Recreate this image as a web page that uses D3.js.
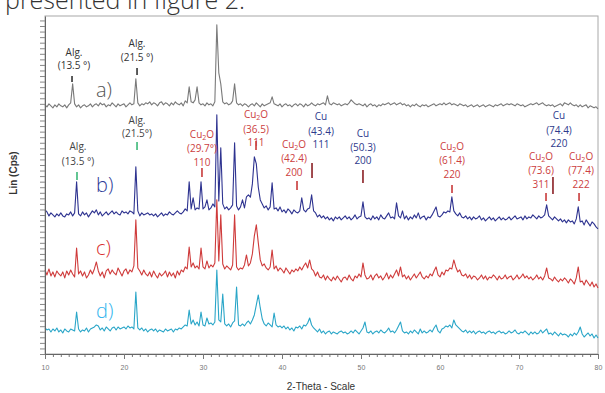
<!DOCTYPE html>
<html>
<head>
<meta charset="utf-8">
<script src="https://cdn.jsdelivr.net/npm/d3@7"></script>
<style>
body { margin: 0; background: #fff; }
svg { display: block; font-family: "Open Sans", sans-serif; }
</style>
</head>
<body>
<svg id="chart" width="605" height="393"></svg>
<script>
// XRD patterns, intensity (Cps) sampled every 0.25 deg from 10 to 80 (2-theta)
var thetaStart = 10, thetaStep = 0.25;

var traceNames = ["a)", "b)", "c)", "d)"];
var traceOffsets = [2232, 1260, 729, 216];

var traceA = [
  9, -9, 18, 0,   -18, 9, -9, 18,   0, -9, 9, -18,   9, 27, 198, 18,
  -9, 9, -18, 0,   9, -9, 0, 18,   -9, 9, 18, 0,   27, 9, 18, -9,
  9, 0, 27, 9,   -9, 18, 0, 9,   18, -9, 9, 27,   9, 18, 243, 27,
  0, 18, 9, 27,   18, 36, 9, 27,   18, 0, 27, 36,   9, 27, 18, 0,
  27, 9, 36, 18,   9, 27, 0, 45,   27, 171, 36, 27,   54, 171, 27, 9,
  18, 0, 27, 9,   18, 0, 36, 729,   297, 198, 36, 18,   27, 9, 18, 45,
  198, 27, 9, 18,   0, 18, 9, -9,   9, 18, 0, 27,   9, -9, 18, 0,
  9, 18, 27, 81,   18, 9, 0, 18,   -9, 9, 18, 0,   9, -9, 9, 18,
  0, 18, 9, -9,   18, 0, 9, 27,   9, 0, 18, 9,   18, 27, 9, 90,
  18, 9, 27, 18,   9, 18, 0, 9,   18, 9, 27, 54,   36, 18, 9, 18,
  9, 0, 18, -9,   9, 18, 0, 9,   -9, 9, 0, 18,   9, 18, 27, 9,
  18, 27, 9, 18,   27, 9, 18, 0,   9, -9, 9, 0,   18, 0, -9, 9,
  0, 9, -9, 0,   9, 18, 0, 9,   18, 9, 27, 9,   18, 27, 9, 18,
  9, 0, 18, 9,   0, 9, -9, 0,   9, -9, 0, 9,   -9, 0, 9, -9,
  0, 9, 0, -9,   9, 0, 9, 18,   0, 9, 18, 9,   18, 9, 0, 18,
  9, 0, 9, -9,   0, 9, 18, 9,   18, 27, 9, 18,   27, 9, 0, 9,
  0, 9, -9, 0,   9, 18, 0, 27,   18, 9, 27, 9,   0, 9, -9, 9,
  -9, 0, 9, -18,   0, -9, -18, -9,   -27
];

var traceB = [
  36, 18, -18, 9,   -9, -27, 0, -18,   9, -18, -27, 0,   -9, 18, -18, 9,
  288, 0, -18, 18,   -9, 9, -27, 0,   27, 9, 36, -9,   18, -18, 0, 18,
  -9, 9, 27, 0,   18, 0, -9, 27,   9, 18, 0, 27,   18, 0, 423, 27,
  -18, 9, -9, 0,   9, -9, 0, -18,   0, -27, -9, 9,   -18, 0, -9, 18,
  0, -9, 9, 27,   9, 0, 18, 45,   27, 288, 45, 144,   36, 54, 45, 288,
  45, 63, 126, 36,   54, 90, 63, 891,   117, 594, 90, 45,   63, 36, 54, 81,
  639, 72, 36, 63,   126, 54, 153, 171,   150, 270, 513, 450,   240, 126, 90, 54,
  72, 36, 63, 279,   45, 54, 27, 63,   18, 36, 9, 45,   27, 0, 36, 18,
  9, 27, 144, 36,   18, 45, 54, 171,   27, 9, -27, -9,   -36, -18, -45, -27,
  -54, -36, -63, -27,   -45, -27, -54, -36,   -18, -45, -27, -54,   -36, -9, -45, -27,
  -18, 108, -27, -45,   -36, -54, -18, -45,   -27, -54, -9, -36,   -45, -18, 9, -36,
  -27, -45, 99, -18,   -36, 27, -45, -18,   -54, -27, -45, -9,   -36, 9, -45, -27,
  -18, -54, -27, -36,   -9, 27, 63, -18,   -27, -9, 18, 9,   27, 18, 153, 27,
  0, -18, 9, -27,   -36, -18, -45, -27,   -54, -27, -45, -36,   -18, -54, -36, -63,
  -45, -27, -54, -36,   -63, -45, -27, -54,   -36, -54, -45, -27,   -54, -36, -18, -45,
  -36, -27, -54, -18,   -45, -27, -36, -9,   -27, -45, -18, -36,   -27, -9, 81, -18,
  -36, -54, -27, -45,   -63, -45, -72, -54,   -81, -54, -72, -63,   -90, -45, 63, -72,
  -63, -99, -54, -81,   -108, -72, -90, -117,   -135
];

var traceC = [
  27, -18, 36, -27,   9, -36, 18, -9,   -27, 9, -45, 18,   -18, 27, -9, -36,
  225, -9, 18, -27,   9, -45, -18, 27,   -9, 36, 99, 18,   -27, 9, -45, 18,
  36, -9, 27, 0,   -18, 45, 9, -27,   18, 36, -9, 27,   9, 63, 477, 45,
  18, -18, 27, -9,   -27, 9, -36, 18,   -18, -45, 0, -27,   -9, 18, -36, 9,
  -27, 0, -45, 18,   -18, 27, 9, 54,   36, 234, 54, 90,   45, 63, 36, 225,
  54, 36, 108, 45,   72, 54, 90, 657,   108, 522, 81, 36,   63, 45, 27, 72,
  522, 54, 27, 45,   36, 72, 162, 63,   90, 171, 333, 432,   270, 117, 63, 81,
  45, 27, 54, 207,   36, 63, 18, 45,   27, 0, 45, 18,   -9, 27, 9, 36,
  18, 54, 27, 63,   90, 45, 117, 36,   18, -27, 9, -36,   -45, -18, -63, -27,
  -54, -72, -36, -63,   -27, -54, -81, -45,   -36, -63, -18, -54,   -72, -27, -45, -9,
  -36, 90, -18, -54,   -45, -18, -63, -27,   -9, -45, -27, -63,   -36, 0, -54, -18,
  -45, -9, 27, -27,   54, -36, -18, -54,   -27, -63, -36, -9,   -45, -18, 9, -36,
  -54, -27, -45, -9,   -27, 18, 54, -18,   -36, 9, -18, 27,   18, 45, 36, 117,
  54, 9, 27, -18,   -27, -9, -45, -18,   -54, -27, -36, -63,   -45, -18, -54, -27,
  -63, -36, -45, -18,   -36, -63, -27, -54,   -45, -18, -54, -36,   -27, -63, -45, -18,
  -54, -36, -9, -45,   -27, -54, -36, -63,   -45, -18, -54, -36,   -63, -27, 45, -45,
  -54, -72, -36, -63,   -81, -54, -72, -45,   -63, -90, -54, -72,   -99, -45, 54, -81,
  -72, -108, -63, -90,   -117, -81, -126, -99,   -135
];

var traceD = [
  18, 0, 9, -18,   9, -9, 18, -18,   0, -27, 9, -9,   -18, 9, 0, -9,
  162, 9, -18, 0,   -9, 18, -18, 9,   18, 27, 45, 36,   0, 18, -9, 27,
  9, -9, 18, 27,   0, 27, 9, 18,   27, 9, 36, 18,   27, 9, 342, 18,
  0, 18, -9, 9,   -18, 0, 9, -9,   9, -18, 0, -9,   -18, 9, -9, 0,
  9, -18, 9, 0,   18, 9, 27, 45,   36, 180, 54, 90,   45, 72, 36, 162,
  45, 36, 108, 54,   63, 45, 72, 540,   90, 72, 324, 54,   36, 54, 27, 63,
  81, 387, 45, 36,   54, 36, 63, 81,   54, 90, 135, 225,   315, 198, 99, 54,
  36, 63, 45, 27,   153, 45, 27, 36,   18, 36, 9, 27,   0, 18, -9, 27,
  18, 36, 9, 45,   36, 63, 108, 45,   18, 0, -18, 9,   -27, -9, -36, -18,
  -9, -36, -18, -27,   -36, -18, -9, -27,   -18, -36, -27, -9,   -27, 0, -18, -36,
  -9, 18, 72, -18,   -27, -9, -36, -18,   -9, -27, 0, -18,   -27, -9, 18, -18,
  -9, -27, 0, 36,   72, -9, -27, -18,   -36, -9, -27, 0,   -18, -36, 9, -27,
  -9, -27, -18, 0,   -18, 18, 45, -9,   -27, 9, 18, 36,   27, 45, 18, 90,
  45, 27, 9, -9,   -18, 0, -27, -9,   -27, -9, -36, -18,   -9, -27, -18, -36,
  -18, -9, -27, -18,   -36, -18, -9, -27,   -18, -36, -27, -9,   -27, -18, 0, -27,
  -36, -18, -27, -9,   -27, -45, -18, -36,   -18, -36, -27, 0,   -27, -9, 9, -36,
  -27, -45, -18, -36,   -54, -27, -45, -36,   -45, -63, -36, -54,   -27, -45, -18, 27,
  -36, -63, -45, -27,   -54, -36, -72, -45,   -72
];

var traceColors = ["#7a7a7a", "#2e3390", "#cf3b3b", "#2aa6c8"];
var nameColors = ["#555555", "#2e3a96", "#d93030", "#31b4ee"];

var xTicks = [10, 20, 30, 40, 50, 60, 70, 80];

// peak annotations: label lines, marked 2-theta, kind of phase
var annoLines = [
  ["Alg.", "(13.5 \u00b0)"],
  ["Alg.", "(21.5 \u00b0)"],
  ["Alg.", "(13.5 \u00b0)"],
  ["Alg.", "(21.5\u00b0)"],
  ["Cu2O", "(29.7\u00b0)", "110"],
  ["Cu2O", "(36.5)", "111"],
  ["Cu2O", "(42.4)", "200"],
  ["Cu", "(43.4)", "111"],
  ["Cu", "(50.3)", "200"],
  ["Cu2O", "(61.4)", "220"],
  ["Cu", "(74.4)", "220"],
  ["Cu2O", "(73.6)", "311"],
  ["Cu2O", "(77.4)", "222"]
];
var annoTheta = [13.42, 21.65, 14.05, 21.65, 29.87, 36.71, 41.9, 43.8, 50.25, 61.52, 74.3, 73.42, 77.6];
var annoKind = ["alg", "alg", "algB", "algB", "cu2o", "cu2o", "cu2o", "cu", "cu", "cu2o", "cu", "cu2o", "cu2o"];

var svg = d3.select("#chart");
var margin = {left: 45, right: 7, top: 16, bottom: 39};
var W = 605, H = 393;

var x = d3.scaleLinear().domain([10, 80]).range([margin.left, W - margin.right]);
var y = d3.scaleLinear().domain([0, 3040]).range([H - margin.bottom, margin.top]);

// caption fragment cut off at the top of the crop
svg.append("text")
    .attr("x", 5).attr("y", 9)
    .style("font-size", "25px").style("font-weight", 300)
    .style("fill", "#333")
    .text("presented in figure 2.");

// frame
svg.append("rect")
    .attr("x", x(10)).attr("y", y.range()[1])
    .attr("width", x(80) - x(10)).attr("height", y.range()[0] - y.range()[1])
    .attr("fill", "none").attr("stroke", "#a8a8a8");

// traces
var traces = [traceA, traceB, traceC, traceD];
traces.forEach(function (t, k) {
    var line = d3.line()
        .x(function (d, i) { return x(thetaStart + i * thetaStep); })
        .y(function (d) { return y(d + traceOffsets[k]); });
    svg.append("path")
        .datum(t)
        .attr("d", line)
        .attr("fill", "none")
        .attr("stroke", traceColors[k])
        .attr("stroke-width", 1.1)
        .attr("stroke-linejoin", "round");
});

// trace names
var nameY = [97, 192, 255, 318];
traceNames.forEach(function (n, k) {
    svg.append("text")
        .attr("x", 96).attr("y", nameY[k])
        .style("font-size", "20px").style("font-weight", 300)
        .style("fill", nameColors[k])
        .text(n);
});

// annotation layout: text baselines, label dx, mark y0/y1
var annoLayout = [
    {ty: [56, 69], dx: 2, my: [76, 82]},
    {ty: [47, 61], dx: 0, my: [68, 75]},
    {ty: [150, 165], dx: 1, my: [172, 180]},
    {ty: [124, 137], dx: 0, my: [142, 150]},
    {ty: [138, 152, 166], dx: 0, my: [168, 177]},
    {ty: [118, 133, 146], dx: 0, my: [141, 150]},
    {ty: [148, 162, 176], dx: -3, my: [181, 190]},
    {ty: [120, 135, 148], dx: 9, my: [163, 178]},
    {ty: [137, 151, 164], dx: 0, my: [170, 183]},
    {ty: [150, 164, 178], dx: 0, my: [185, 193]},
    {ty: [119, 134, 147], dx: 6, my: [177, 194]},
    {ty: [160, 174, 188], dx: -5, my: [193, 201]},
    {ty: [160, 174, 188], dx: 2, my: [193, 201]}
];
var textColor = {alg: "#333333", algB: "#444444", cu2o: "#cc4040", cu: "#2e3a8c"};
var markColor = {alg: "#333333", algB: "#3cb878", cu2o: "#c83a3a", cu: "#8a1f24"};

annoLines.forEach(function (lines, k) {
    var lay = annoLayout[k], kind = annoKind[k];
    var cx = x(annoTheta[k]) + lay.dx;
    lines.forEach(function (s, j) {
        var t = svg.append("text")
            .attr("x", cx).attr("y", lay.ty[j])
            .attr("text-anchor", "middle")
            .style("font-size", "10px")
            .style("fill", textColor[kind]);
        if (s === "Cu2O") {
            t.append("tspan").text("Cu");
            t.append("tspan").attr("dy", 2).style("font-size", "7px").text("2");
            t.append("tspan").attr("dy", -2).text("O");
        } else {
            t.text(s);
        }
    });
    svg.append("line")
        .attr("x1", x(annoTheta[k])).attr("x2", x(annoTheta[k]))
        .attr("y1", lay.my[0]).attr("y2", lay.my[1])
        .attr("stroke", markColor[kind]).attr("stroke-width", 1.6);
});

// axes
var xMinor = d3.axisBottom(x).tickValues(d3.range(10, 81, 1)).tickSize(3).tickSizeOuter(0).tickFormat("");
var xMajor = d3.axisBottom(x).tickValues(xTicks).tickSize(5).tickSizeOuter(0).tickFormat(d3.format("d"));
var yAxis = d3.axisLeft(y).tickValues(d3.range(0, 3001, 50)).tickSize(5).tickSizeOuter(0).tickFormat("");

var gx = svg.append("g").attr("transform", "translate(0," + y.range()[0] + ")");
gx.call(xMinor);
gx.append("g").call(xMajor);
gx.selectAll("path.domain").attr("stroke", "#666");
gx.selectAll("line").attr("stroke", "#777");
gx.selectAll("text").style("font-size", "7px").style("fill", "#777")
    .style("font-family", "Liberation Sans, Arial, sans-serif").attr("dy", "1.2em");

var gy = svg.append("g").attr("transform", "translate(" + x(10) + ",0)").call(yAxis);
gy.select("path.domain").attr("stroke", "#666");
gy.selectAll("line").attr("stroke", "#888");

svg.append("text")
    .attr("x", 321).attr("y", 390)
    .attr("text-anchor", "middle")
    .style("font-family", "Liberation Sans, Arial, sans-serif")
    .style("font-size", "10px").style("fill", "#333")
    .text("2-Theta - Scale");

svg.append("text")
    .attr("transform", "translate(17,173) rotate(-90)")
    .attr("text-anchor", "middle")
    .style("font-family", "Liberation Sans, Arial, sans-serif")
    .style("font-size", "10px").style("font-weight", "bold").style("fill", "#333")
    .text("Lin (Cps)");
</script>
</body>
</html>
